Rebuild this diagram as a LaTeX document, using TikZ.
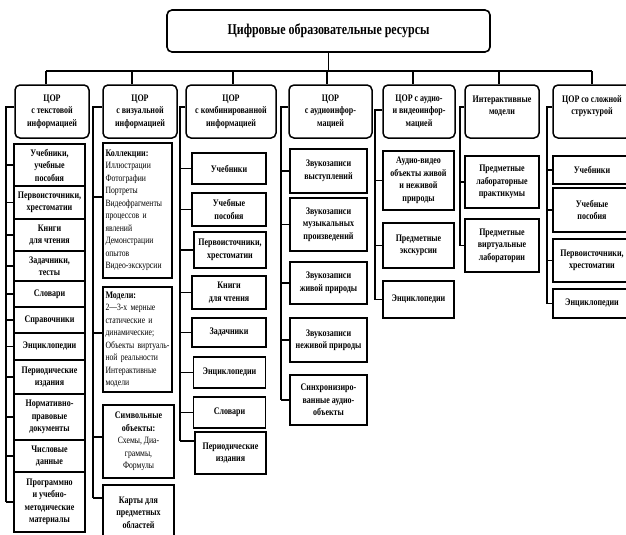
\documentclass[tikz,border=0pt]{standalone}
\usepackage{fontspec}
\setmainfont{Liberation Serif}[FakeStretch=0.8]
\begin{document}
\begin{tikzpicture}[x=1pt,y=-1pt,
  txt/.style={font=\bfseries\fontsize{10}{12.5}\selectfont},
  headbox/.style={draw, line width=1.6pt, rounded corners=5pt, align=center, inner sep=0pt,
    font=\bfseries\fontsize{15}{17}\selectfont},
  lvlbox/.style={draw, line width=1.5pt, rounded corners=5pt, align=center, inner sep=0pt, txt},
  leafbox/.style={draw, line width=1.2pt, align=center, inner sep=0pt, txt},
  listbox/.style={draw, line width=1.2pt, align=left, inner xsep=2.5pt, inner ysep=3pt, text width=64pt, txt},
  conn/.style={line width=1.2pt}]
\newcommand\regtxt{\mdseries\fontsize{9.6}{12.5}\selectfont}
\useasboundingbox (0,0) rectangle (626,535);

% top
\node[headbox, minimum width=323pt, minimum height=42pt] (top) at (328.5,31) {Цифровые образовательные ресурсы};

% level 2
\node[lvlbox, minimum width=74pt, minimum height=53pt] (L1) at (52,111.5) {ЦОР\\с текстовой\\информацией};
\node[lvlbox, minimum width=74pt, minimum height=53pt] (L2) at (140,111.5) {ЦОР\\с визуальной\\информацией};
\node[lvlbox, minimum width=90pt, minimum height=53pt] (L3) at (231,111.5) {ЦОР\\с комбинированной\\информацией};
\node[lvlbox, minimum width=83pt, minimum height=53pt] (L4) at (330.5,111.5) {ЦОР\\с аудиоинфор-\\мацией};
\node[lvlbox, minimum width=72pt, minimum height=53pt] (L5) at (419,111.5) {ЦОР с аудио-\\и видеоинфор-\\мацией};
\node[lvlbox, minimum width=74pt, minimum height=53pt] (L6) at (502,111.5) {Интерактивные\\модели\\\mbox{}};
\node[lvlbox, minimum width=78pt, minimum height=53pt] (L7) at (592,111.5) {ЦОР со сложной\\структурой\\\mbox{}};

% bus
\coordinate (bus1) at (46,71);
\coordinate (bus2) at (132,71);
\coordinate (bus3) at (233,71);
\coordinate (bus4) at (327,71);
\coordinate (bus5) at (413,71);
\coordinate (bus6) at (499,71);
\coordinate (bus7) at (592,71);
\draw[conn] (top.south) -- (top.south |- bus1);
\draw[conn] (bus1) -- (bus7);
\foreach \i in {1,...,7} \draw[conn] (bus\i) -- (bus\i |- L\i.north);

% column 1
\node[leafbox, minimum width=71pt, minimum height=42pt] (a1) at (49.5,165) {Учебники,\\учебные\\пособия};
\node[leafbox, minimum width=71pt, minimum height=33pt] (a2) at (49.5,202.5) {Первоисточники,\\хрестоматии};
\node[leafbox, minimum width=71pt, minimum height=32pt] (a3) at (49.5,235) {Книги\\для чтения};
\node[leafbox, minimum width=71pt, minimum height=30pt] (a4) at (49.5,266) {Задачники,\\тесты};
\node[leafbox, minimum width=71pt, minimum height=26pt] (a5) at (49.5,294) {Словари};
\node[leafbox, minimum width=71pt, minimum height=26pt] (a6) at (49.5,320) {Справочники};
\node[leafbox, minimum width=71pt, minimum height=27pt] (a7) at (49.5,346.5) {Энциклопедии};
\node[leafbox, minimum width=71pt, minimum height=34pt] (a8) at (49.5,377) {Периодические\\издания};
\node[leafbox, minimum width=71pt, minimum height=46pt] (a9) at (49.5,417) {Нормативно-\\правовые\\документы};
\node[leafbox, minimum width=71pt, minimum height=32pt] (a10) at (49.5,456) {Числовые\\данные};
\node[leafbox, minimum width=71pt, minimum height=60pt] (a11) at (49.5,502) {Программно\\и учебно-\\методические\\материалы};
\coordinate (k1) at (6,107);
\draw[conn] (L1.west |- k1) -- (k1) -- (k1 |- a11.west);
\foreach \n in {a1,a2,a3,a4,a5,a6,a7,a8,a9,a10,a11} \draw[conn] (k1 |- \n.west) -- (\n.west);

% column 2
\node[listbox, minimum height=135pt] (b1) at (137.5,210.5) {Коллекции:\\\regtxt Иллюстрации\\\regtxt Фотографии\\\regtxt Портреты\\\regtxt Видеофрагменты\\\regtxt процессов и\\\regtxt явлений\\\regtxt Демонстрации\\\regtxt опытов\\\regtxt Видео-экскурсии};
\node[listbox, minimum height=105pt] (b2) at (137.5,339.5) {Модели:\\\regtxt 2—3-х мерные\\\regtxt статические и\\\regtxt динамические;\\\regtxt\mbox{Объекты виртуаль-}\\\regtxt ной реальности\\\regtxt Интерактивные\\\regtxt модели};
\node[leafbox, minimum width=71pt, minimum height=73pt] (b3) at (138.5,441.5) {Символьные\\объекты:\\\regtxt Схемы, Диа-\\\regtxt граммы,\\\regtxt Формулы};
\node[leafbox, minimum width=71pt, minimum height=55pt] (b4) at (138.5,512.5) {Карты для\\предметных\\областей};
\coordinate (k2) at (93,107);
\coordinate (s1) at ([yshift=13.5pt]b1.west);
\coordinate (s2) at ([yshift=6.5pt]b2.west);
\coordinate (s3) at ([yshift=4.5pt]b3.west);
\coordinate (s4) at ([yshift=14.5pt]b4.west);
\draw[conn] (L2.west |- k2) -- (k2) -- (k2 |- s4);
\foreach \n in {s1,s2,s3,s4} \draw[conn] (k2 |- \n) -- (\n);

% column 3
\node[leafbox, minimum width=74pt, minimum height=31pt] (c1) at (229,168.5) {Учебники};
\node[leafbox, minimum width=74pt, minimum height=33pt] (c2) at (229,209.5) {Учебные\\пособия};
\node[leafbox, minimum width=72pt, minimum height=36pt] (c3) at (230,250) {Первоисточники,\\хрестоматии};
\node[leafbox, minimum width=74pt, minimum height=33pt] (c4) at (229,292.5) {Книги\\для чтения};
\node[leafbox, minimum width=74pt, minimum height=29pt] (c5) at (229,332.5) {Задачники};
\node[leafbox, minimum width=72pt, minimum height=31pt] (c6) at (229.5,372.5) {Энциклопедии};
\node[leafbox, minimum width=72pt, minimum height=31pt] (c7) at (229.5,412.5) {Словари};
\node[leafbox, minimum width=71pt, minimum height=42pt] (c8) at (230.5,453) {Периодические\\издания};
\coordinate (k3) at (180,107);
\coordinate (t8) at ([yshift=12pt]c8.west);
\draw[conn] (L3.west |- k3) -- (k3) -- (k3 |- t8);
\foreach \n in {c1,c2,c3,c4,c5,c6,c7} \draw[conn] (k3 |- \n.west) -- (\n.west);
\draw[conn] (k3 |- t8) -- (t8);

% column 4
\node[leafbox, minimum width=77pt, minimum height=44pt] (d1) at (328.5,171) {Звукозаписи\\выступлений};
\node[leafbox, minimum width=77pt, minimum height=53pt] (d2) at (328.5,224.5) {Звукозаписи\\музыкальных\\произведений};
\node[leafbox, minimum width=77pt, minimum height=42pt] (d3) at (328.5,283) {Звукозаписи\\живой природы};
\node[leafbox, minimum width=77pt, minimum height=44pt] (d4) at (328.5,340) {Звукозаписи\\неживой природы};
\node[leafbox, minimum width=77pt, minimum height=50pt] (d5) at (328.5,400) {Синхронизиро-\\ванные аудио-\\объекты};
\coordinate (k4) at (281,107);
\draw[conn] (L4.west |- k4) -- (k4) -- (k4 |- d5.west);
\foreach \n in {d1,d2,d3,d4,d5} \draw[conn] (k4 |- \n.west) -- (\n.west);

% column 5
\node[leafbox, minimum width=71pt, minimum height=59pt] (e1) at (418.5,180.5) {Аудио-видео\\объекты живой\\и неживой\\природы};
\node[leafbox, minimum width=71pt, minimum height=45pt] (e2) at (418.5,245.5) {Предметные\\экскурсии};
\node[leafbox, minimum width=71pt, minimum height=37pt] (e3) at (418.5,299.5) {Энциклопедии};
\coordinate (k5) at (375,110);
\draw[conn] (L5.west |- k5) -- (k5) -- (k5 |- e3.west);
\foreach \n in {e1,e2,e3} \draw[conn] (k5 |- \n.west) -- (\n.west);

% column 6
\node[leafbox, minimum width=74pt, minimum height=52pt] (f1) at (502,182) {Предметные\\лабораторные\\практикумы};
\node[leafbox, minimum width=74pt, minimum height=53pt] (f2) at (502,245.5) {Предметные\\виртуальные\\лаборатории};
\coordinate (k6) at (460,107);
\draw[conn] (L6.west |- k6) -- (k6) -- (k6 |- f2.west);
\foreach \n in {f1,f2} \draw[conn] (k6 |- \n.west) -- (\n.west);

% column 7
\node[leafbox, minimum width=78pt, minimum height=28pt] (g1) at (592,170) {Учебники};
\node[leafbox, minimum width=78pt, minimum height=44pt] (g2) at (592,210) {Учебные\\пособия};
\node[leafbox, minimum width=78pt, minimum height=43pt] (g3) at (592,260.5) {Первоисточники,\\хрестоматии};
\node[leafbox, minimum width=78pt, minimum height=29pt] (g4) at (592,303.5) {Энциклопедии};
\coordinate (k7) at (547,107);
\draw[conn] (L7.west |- k7) -- (k7) -- (k7 |- g4.west);
\foreach \n in {g1,g2,g3,g4} \draw[conn] (k7 |- \n.west) -- (\n.west);
\end{tikzpicture}
\end{document}
